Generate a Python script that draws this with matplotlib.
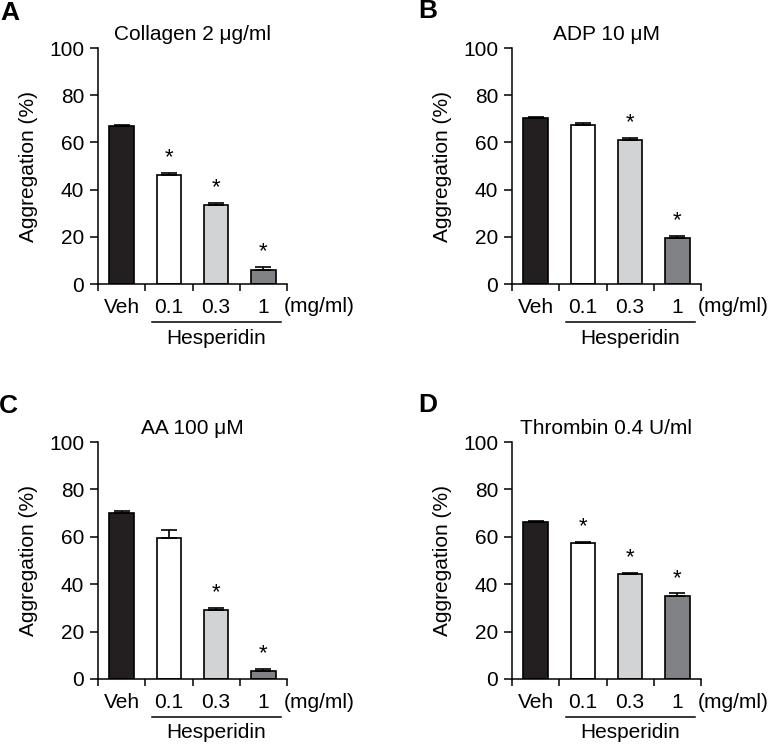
import matplotlib
matplotlib.use("Agg")
import matplotlib.pyplot as plt
import matplotlib.transforms as mtransforms

plt.rcParams['font.family'] = ['Liberation Sans', 'DejaVu Sans']

groups = ['Veh', '0.1', '0.3', '1']
bar_colors = ['#231f20', '#ffffff', '#d1d3d4', '#808285']

titles = ['Collagen 2 μg/ml', 'ADP 10 μM', 'AA 100 μM', 'Thrombin 0.4 U/ml']
letters = ['A', 'B', 'C', 'D']

collagen_mean = [66.8, 46.0, 33.3, 6.1]
collagen_err = [0.4, 1.2, 0.9, 1.1]
collagen_sig = [False, True, True, True]

adp_mean = [70.3, 67.5, 61.2, 19.4]
adp_err = [0.6, 0.7, 0.8, 0.9]
adp_sig = [False, False, True, True]

aa_mean = [69.9, 59.7, 29.3, 3.4]
aa_err = [0.8, 3.3, 0.8, 1.0]
aa_sig = [False, False, True, True]

thrombin_mean = [66.1, 57.2, 44.2, 35.2]
thrombin_err = [0.4, 0.8, 0.6, 0.9]
thrombin_sig = [False, True, True, True]

panels = [
    (collagen_mean, collagen_err, collagen_sig),
    (adp_mean, adp_err, adp_sig),
    (aa_mean, aa_err, aa_sig),
    (thrombin_mean, thrombin_err, thrombin_sig),
]

W, H = 768, 744
fig = plt.figure(figsize=(W / 100, H / 100), dpi=100)

# axes boxes in pixels: left, top, right, bottom
boxes = [(98, 48, 287, 284), (512, 48, 701, 284),
         (98, 442, 287, 679), (512, 442, 701, 679)]
letter_pos = [(10, 13), (428, 11), (8, 406), (428, 405)]

fs = 15
for i, (mean, err, sig) in enumerate(panels):
    l, t, r, b = boxes[i]
    ax = fig.add_axes([l / W, 1 - b / H, (r - l) / W, (b - t) / H])
    x = list(range(len(groups)))
    ax.bar(x, mean, width=0.52, color=bar_colors, edgecolor='black',
           linewidth=1.2, zorder=2,
           yerr=[[0] * len(err), err], capsize=6,
           error_kw=dict(elinewidth=1.2, capthick=1.2, ecolor='black'))
    for xi, m, e, s in zip(x, mean, err, sig):
        if s:
            ax.text(xi, m + e + 2.0, '*', ha='center', va='bottom', fontsize=16)

    ax.set_xlim(-0.5, 3.5)
    ax.set_ylim(0, 100)
    ax.set_yticks(range(0, 101, 20))
    ax.set_xticks([-0.5, 0.5, 1.5, 2.5, 3.5])
    ax.set_xticklabels([])
    ax.set_xticks(x, minor=True)
    ax.set_xticklabels(groups, minor=True)
    ax.tick_params(axis='x', which='minor', length=0, pad=10, labelsize=fs)
    ax.tick_params(axis='x', which='major', length=5, width=1.1, direction='out')
    ax.tick_params(axis='y', length=6, width=1.1, direction='out', labelsize=fs, pad=4)
    for side in ['top', 'right']:
        ax.spines[side].set_visible(False)
    for side in ['left', 'bottom']:
        ax.spines[side].set_linewidth(1.1)

    ax.set_ylabel('Aggregation (%)', fontsize=fs)
    ax.yaxis.set_label_coords(-60 / (r - l), 0.5)

    ax.text(0.5, 1 + 14 / (b - t), titles[i], transform=ax.transAxes,
            ha='center', va='center', fontsize=fs)
    ax.text(0.985, -23 / (b - t), '(mg/ml)', transform=ax.transAxes,
            ha='left', va='center', fontsize=fs)

    trans = mtransforms.blended_transform_factory(ax.transData, ax.transAxes)
    ax.plot([0.64, 3.37], [-38 / (b - t)] * 2, color='black', lw=1.1,
            transform=trans, clip_on=False)
    ax.text(2.0, -54 / (b - t), 'Hesperidin', transform=trans,
            ha='center', va='center', fontsize=fs)

    lx, ly = letter_pos[i]
    fig.text(lx / W, 1 - ly / H, letters[i], fontsize=19, fontweight='bold',
             ha='center', va='center')

fig.savefig('out.png', dpi=100)
